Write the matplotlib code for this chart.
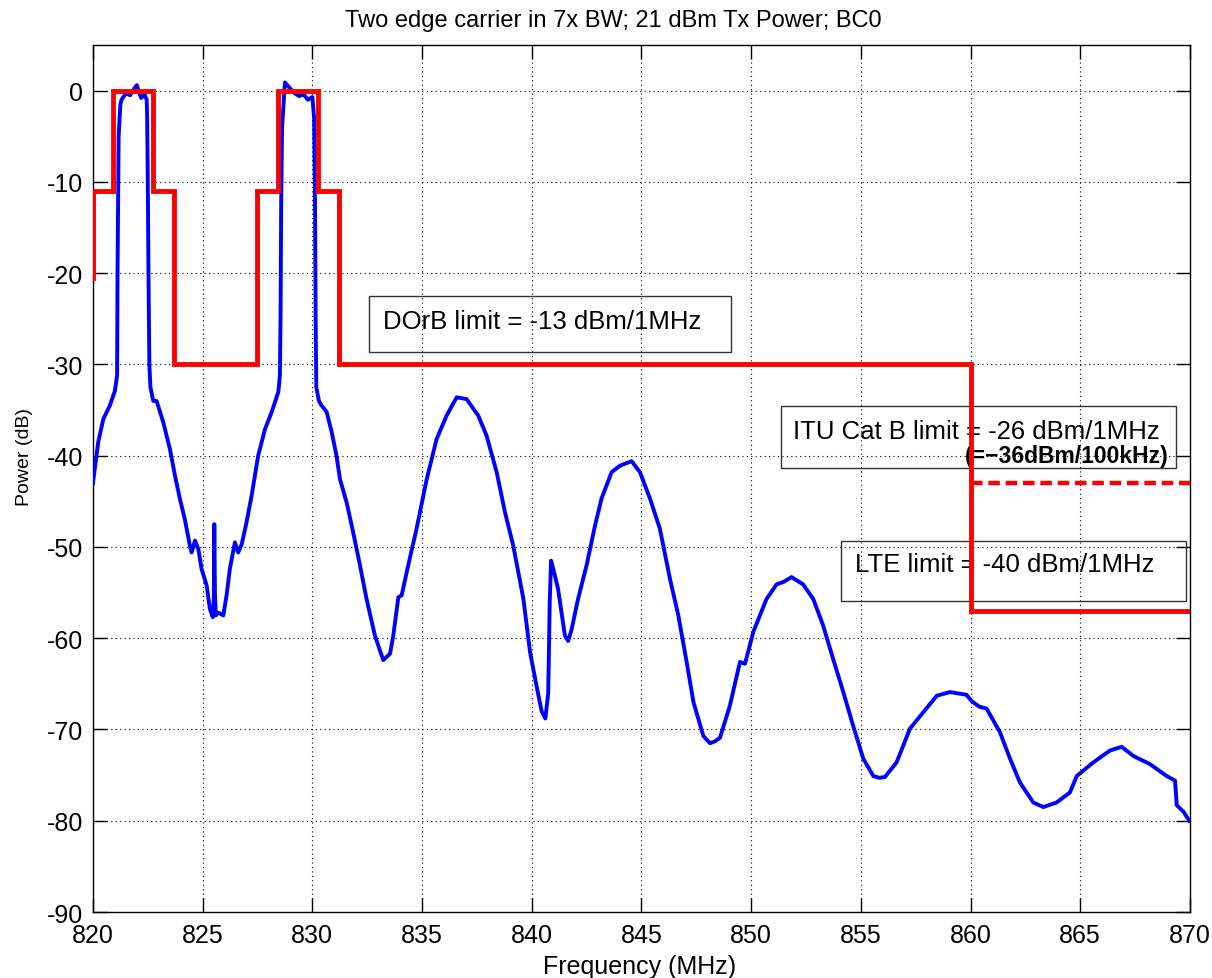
import matplotlib
matplotlib.use("Agg")
import matplotlib.pyplot as plt
from matplotlib.patches import Rectangle

plt.rcParams['font.family'] = ['Liberation Sans', 'DejaVu Sans']
plt.rcParams['axes.unicode_minus'] = False

freq = [820.0, 820.24, 820.47, 820.77, 821.0, 821.1, 821.12, 821.17, 821.25,
        821.3, 821.5, 821.7, 821.9, 822.0, 822.1, 822.2, 822.35, 822.45,
        822.47, 822.5, 822.53, 822.57, 822.62, 822.75, 822.9, 823.2, 823.51,
        823.74, 823.96, 824.19, 824.42, 824.5, 824.65, 824.8, 824.95, 825.18,
        825.33, 825.46, 825.51, 825.53, 825.56, 825.6, 825.71, 825.94, 826.09,
        826.24, 826.47, 826.62, 826.78, 827.0, 827.23, 827.53, 827.84, 828.15,
        828.45, 828.52, 828.55, 828.58, 828.62, 828.7, 828.75, 829.0, 829.2,
        829.4, 829.6, 829.8, 830.0, 830.08, 830.12, 830.15, 830.18, 830.3,
        830.42, 830.65, 830.88, 831.1, 831.26, 831.56, 831.86, 832.17, 832.47,
        832.85, 833.23, 833.54, 833.69, 833.92, 834.07, 834.37, 834.75, 835.21,
        835.66, 836.12, 836.58, 837.03, 837.56, 837.94, 838.4, 838.78, 839.16,
        839.62, 839.92, 840.2, 840.45, 840.62, 840.75, 840.82, 840.88, 840.98,
        841.2, 841.36, 841.51, 841.66, 841.81, 842.11, 842.5, 842.88, 843.18,
        843.64, 844.02, 844.55, 844.93, 845.39, 845.84, 846.3, 846.68, 847.06,
        847.37, 847.82, 848.12, 848.35, 848.58, 849.03, 849.49, 849.72, 850.1,
        850.7, 851.16, 851.5, 851.84, 852.37, 852.83, 853.28, 853.74, 854.2,
        854.65, 855.11, 855.57, 855.85, 856.1, 856.63, 857.24, 857.85, 858.46,
        859.06, 859.82, 860.05, 860.4, 860.73, 861.34, 861.8, 862.25, 862.86,
        863.32, 863.92, 864.53, 864.84, 865.6, 866.36, 866.89, 867.42, 868.18,
        868.94, 869.32, 869.4, 869.7, 869.97]
power = [-43.0, -38.5, -36.0, -34.5, -32.9, -31.2, -20.0, -5.0, -1.5,
         -1.0, -0.3, -0.5, 0.3, 0.6, -0.2, -0.8, -0.4, -1.0,
         -3.0, -10.0, -20.0, -30.0, -32.5, -34.0, -34.0, -36.3, -39.3,
         -42.2, -44.7, -47.0, -49.9, -50.6, -49.3, -50.2, -52.4, -54.2,
         -56.8, -57.7, -55.7, -47.5, -55.0, -57.5, -57.2, -57.5, -55.3,
         -52.4, -49.5, -50.6, -49.7, -47.3, -44.4, -40.0, -37.1, -35.2,
         -33.0, -31.2, -25.0, -12.0, -4.0, -1.0, 0.9, 0.2, -0.3,
         -0.6, -0.4, -1.0, -0.7, -3.0, -12.0, -25.0, -32.5, -34.0,
         -34.5, -35.2, -37.4, -40.0, -42.6, -45.1, -48.4, -52.0, -55.7,
         -59.7, -62.4, -61.7, -59.7, -55.5, -55.3, -52.0, -48.0, -42.6,
         -38.2, -35.6, -33.6, -33.8, -35.6, -37.8, -41.8, -46.2, -49.9,
         -55.7, -61.5, -65.0, -68.0, -68.8, -66.0, -56.0, -51.5, -52.4,
         -54.6, -57.2, -59.7, -60.3, -59.1, -55.7, -52.0, -47.7, -44.7,
         -41.8, -41.1, -40.6, -41.8, -44.7, -48.0, -53.5, -57.5, -62.6,
         -67.0, -70.7, -71.5, -71.3, -70.9, -67.4, -62.6, -62.8, -59.3,
         -55.7, -54.1, -53.8, -53.3, -54.1, -55.7, -58.6, -62.3, -65.9,
         -69.6, -73.2, -75.1, -75.3, -75.2, -73.6, -69.9, -68.1, -66.3,
         -65.9, -66.2, -66.9, -67.5, -67.7, -70.3, -73.2, -75.8, -78.0,
         -78.5, -78.0, -76.9, -75.1, -73.6, -72.3, -71.9, -72.9, -73.8,
         -75.1, -75.6, -78.3, -79.0, -80.0]

# DOrB emission mask (step edges)
mask_f = [820.0, 820.0, 820.93, 820.93, 822.75, 822.75, 823.7, 823.7,
          827.46, 827.46, 828.45, 828.45, 830.24, 830.24, 831.23, 831.23,
          860.0, 860.0, 870.0]
mask_p = [-20.5, -11.0, -11.0, 0.0, 0.0, -11.0, -11.0, -30.0,
          -30.0, -11.0, -11.0, 0.0, 0.0, -11.0, -11.0, -30.0,
          -30.0, -57.0, -57.0]

# ITU Cat B limit expressed per 100 kHz
itu_f = [860.0, 870.0]
itu_p = [-43.0, -43.0]

xticks = list(range(820, 871, 5))
yticks = list(range(-90, 1, 10))

fig = plt.figure(figsize=(12.12, 9.79), dpi=100)
ax = fig.add_axes([0.0767, 0.0674, 0.9051, 0.8856])

ax.plot(freq, power, color='#0000ff', lw=2.8, zorder=3)
ax.plot(mask_f, mask_p, color='#ff0000', lw=3.5, zorder=4,
        solid_joinstyle='miter')
ax.plot(itu_f, itu_p, color='#ff0000', lw=3.2, dashes=(2.6, 1.3), zorder=4)

ax.set_xlim(820, 870)
ax.set_ylim(-90, 5)
ax.set_xticks(xticks)
ax.set_yticks(yticks)
ax.grid(True, color='black', linestyle=(0, (1, 3)), lw=0.8)
ax.tick_params(direction='in', length=10, width=1, top=True, right=True,
               labelsize=18)
ax.tick_params(axis='x', pad=8)
ax.tick_params(axis='y', pad=7)
for s in ax.spines.values():
    s.set_linewidth(1.0)

# annotation boxes (axes fraction)
boxes = [(0.2519, 0.6456, 0.3297, 0.0646),
         (0.6269, 0.5118, 0.3603, 0.0715),
         (0.6816, 0.3591, 0.3145, 0.0692)]
for x0, y0, w, h in boxes:
    ax.add_patch(Rectangle((x0, y0), w, h, transform=ax.transAxes,
                           fill=False, ec='#333333', lw=1.0, zorder=2))

ax.text(0.2644, 0.6817, 'DOrB limit = -13 dBm/1MHz', transform=ax.transAxes,
        fontsize=18.5, va='center', ha='left', zorder=2)
ax.text(0.638, 0.5551, 'ITU Cat B limit = -26 dBm/1MHz', transform=ax.transAxes,
        fontsize=18.5, va='center', ha='left', zorder=2)
ax.text(0.9809, 0.5271, '(=\u221236dBm/100kHz)', transform=ax.transAxes,
        fontsize=16.5, fontweight='bold', va='center', ha='right', zorder=2)
ax.text(0.6946, 0.4014, 'LTE limit = -40 dBm/1MHz', transform=ax.transAxes,
        fontsize=18.5, va='center', ha='left', zorder=2)

fig.text(0.5058, 0.9724, 'Two edge carrier in 7x BW; 21 dBm Tx Power; BC0',
         fontsize=17, ha='center', va='baseline')
fig.text(0.528, 0.0123, 'Frequency (MHz)', fontsize=18,
         ha='center', va='center')
fig.text(0.0206, 0.5332, 'Power (dB)', fontsize=14,
         rotation=90, ha='center', va='center')

fig.savefig('out.png', dpi=100)
